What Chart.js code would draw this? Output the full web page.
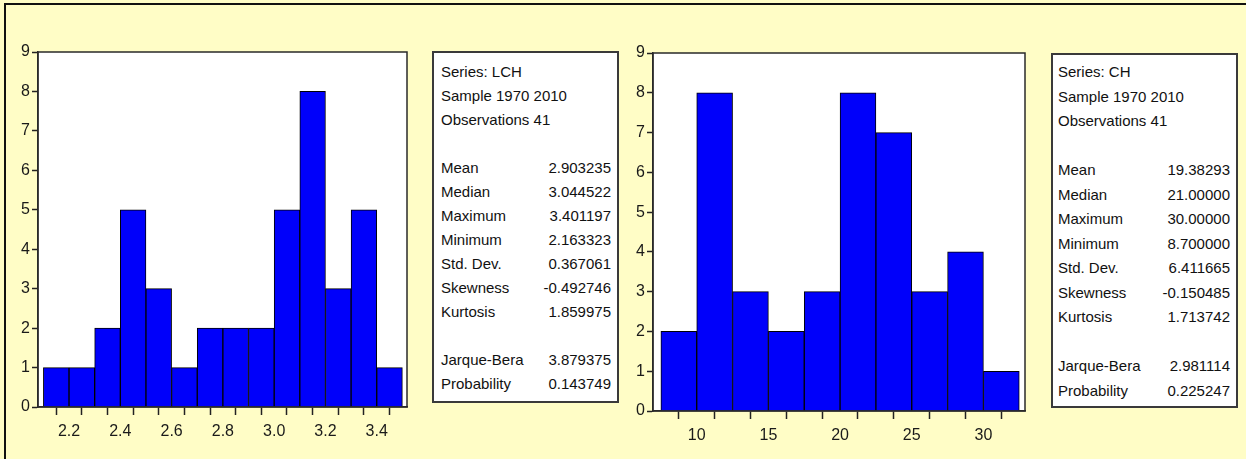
<!DOCTYPE html>
<html>
<head>
<meta charset="utf-8">
<script src="https://cdn.jsdelivr.net/npm/chart.js@4.4.1/dist/chart.umd.min.js"></script>
<style>
    html, body { margin: 0; padding: 0; }
    body {
        width: 1246px; height: 459px; position: relative; overflow: hidden;
        background: #fffdc6;
        font-family: "Liberation Sans", Arial, sans-serif;
    }
    .frame {
        position: absolute; left: 4px; top: 3px; right: 0; bottom: -5px;
        border-left: 2px solid #111; border-top: 2px solid #111;
    }
    .plot { position: absolute; top: 0; height: 459px; }
    .stats {
        position: absolute; box-sizing: border-box; background: #fff;
        border: 2px solid #3a3a3a; color: #111; font-size: 15px;
    }
    .stats .row { display: flex; justify-content: space-between; white-space: nowrap; }
</style>
</head>
<body>
<div class="frame"></div>
<div class="plot" style="left:0; width:425px;"><canvas id="lchChart"></canvas></div>
<div class="stats" id="lchStats" style="left:432px; top:51px; width:187px; height:352px; padding:7px 6px 0 7px; line-height:24px;"></div>
<div class="plot" style="left:620px; width:420px;"><canvas id="chChart"></canvas></div>
<div class="stats" id="chStats" style="left:1051px; top:53px; width:187px; height:355px; padding:5px 6px 0 5px; line-height:24.5px;"></div>

<script>
// Histogramme LCH : bornes des classes et effectifs
const lchEdges = [2.1, 2.2, 2.3, 2.4, 2.5, 2.6, 2.7, 2.8, 2.9, 3.0, 3.1, 3.2, 3.3, 3.4, 3.5];
const lchCounts = [1, 1, 2, 5, 3, 1, 2, 2, 2, 5, 8, 3, 5, 1];
const lchTickLabels = ['2.2', '2.4', '2.6', '2.8', '3.0', '3.2', '3.4'];

// Histogramme CH
const chEdges = [7.5, 10, 12.5, 15, 17.5, 20, 22.5, 25, 27.5, 30, 32.5];
const chCounts = [2, 8, 3, 2, 3, 8, 7, 3, 4, 1];
const chTickLabels = ['10', '15', '20', '25', '30'];

const yTickLabels = ['0', '1', '2', '3', '4', '5', '6', '7', '8', '9'];

// Statistiques descriptives
const lchHeader = ['Series: LCH', 'Sample 1970 2010', 'Observations 41'];
const lchStats = [['Mean', '2.903235'], ['Median', '3.044522'], ['Maximum', '3.401197'],
    ['Minimum', '2.163323'], ['Std. Dev.', '0.367061'], ['Skewness', '-0.492746'], ['Kurtosis', '1.859975']];
const lchTests = [['Jarque-Bera', '3.879375'], ['Probability', '0.143749']];

const chHeader = ['Series: CH', 'Sample 1970 2010', 'Observations 41'];
const chStats = [['Mean', '19.38293'], ['Median', '21.00000'], ['Maximum', '30.00000'],
    ['Minimum', '8.700000'], ['Std. Dev.', '6.411665'], ['Skewness', '-0.150485'], ['Kurtosis', '1.713742']];
const chTests = [['Jarque-Bera', '2.981114'], ['Probability', '0.225247']];

function fillStats(id, header, stats, tests) {
    const box = document.getElementById(id);
    let html = header.map(t => `<div>${t}</div>`).join('') + '<div>&nbsp;</div>';
    html += stats.map(([k, v]) => `<div class="row"><span>${k}</span><span>${v}</span></div>`).join('');
    html += '<div>&nbsp;</div>';
    html += tests.map(([k, v]) => `<div class="row"><span>${k}</span><span>${v}</span></div>`).join('');
    box.innerHTML = html;
}
fillStats('lchStats', lchHeader, lchStats, lchTests);
fillStats('chStats', chHeader, chStats, chTests);

// Fond blanc et cadre de la zone de tracé
const plotFrame = {
    id: 'plotFrame',
    beforeDraw(chart) {
        const a = chart.chartArea, ctx = chart.ctx;
        ctx.save();
        ctx.fillStyle = '#ffffff';
        ctx.fillRect(a.left, a.top, a.right - a.left, a.bottom - a.top);
        ctx.restore();
    },
    afterDraw(chart) {
        const a = chart.chartArea, ctx = chart.ctx;
        ctx.save();
        ctx.strokeStyle = '#2a2a2a';
        ctx.lineWidth = 1.5;
        ctx.strokeRect(a.left, a.top, a.right - a.left, a.bottom - a.top);
        ctx.restore();
    }
};

function makeHistogram(canvasId, edges, counts, tickLabels, opts) {
    const data = counts.map((c, i) => ({ x: (edges[i] + edges[i + 1]) / 2, y: c }));
    const font = { family: '"Liberation Sans", Arial, sans-serif', size: 16 };
    return new Chart(document.getElementById(canvasId), {
        type: 'bar',
        data: {
            datasets: [{
                data: data,
                backgroundColor: '#0000fa',
                borderColor: '#000000',
                borderWidth: 1,
                barPercentage: 1,
                categoryPercentage: 1
            }]
        },
        options: {
            responsive: true,
            maintainAspectRatio: false,
            animation: false,
            layout: { padding: { top: opts.top, right: opts.right, left: 0, bottom: 0 } },
            plugins: { legend: { display: false }, tooltip: { enabled: false } },
            scales: {
                x: {
                    type: 'linear',
                    min: opts.xmin,
                    max: opts.xmax,
                    offset: false,
                    afterFit: s => { s.height = opts.xHeight; },
                    afterBuildTicks: s => { s.ticks = edges.map(v => ({ value: v })); },
                    grid: { drawOnChartArea: false, tickLength: 8, tickColor: '#222', tickWidth: 1.5 },
                    border: { display: true, color: '#2a2a2a', width: 1.5 },
                    ticks: {
                        autoSkip: false, maxRotation: 0, padding: 7, color: '#1a1a1a', font: font,
                        callback: v => tickLabels.find(t => Math.abs(parseFloat(t) - v) < 1e-6) || ''
                    }
                },
                y: {
                    min: 0,
                    max: 9,
                    afterFit: s => { s.width = opts.yWidth; },
                    grid: { drawOnChartArea: false, tickLength: 6, tickColor: '#222', tickWidth: 1.5 },
                    border: { display: true, color: '#2a2a2a', width: 1.5 },
                    ticks: {
                        stepSize: 1, padding: 2, color: '#1a1a1a', font: font,
                        callback: v => yTickLabels[v]
                    }
                }
            }
        },
        plugins: [plotFrame]
    });
}

makeHistogram('lchChart', lchEdges, lchCounts, lchTickLabels,
    { xmin: 2.079, xmax: 3.518, top: 52, right: 18, xHeight: 52, yWidth: 38 });
makeHistogram('chChart', chEdges, chCounts, chTickLabels,
    { xmin: 6.95, xmax: 32.9, top: 53, right: 15, xHeight: 48, yWidth: 33 });
</script>
</body>
</html>
